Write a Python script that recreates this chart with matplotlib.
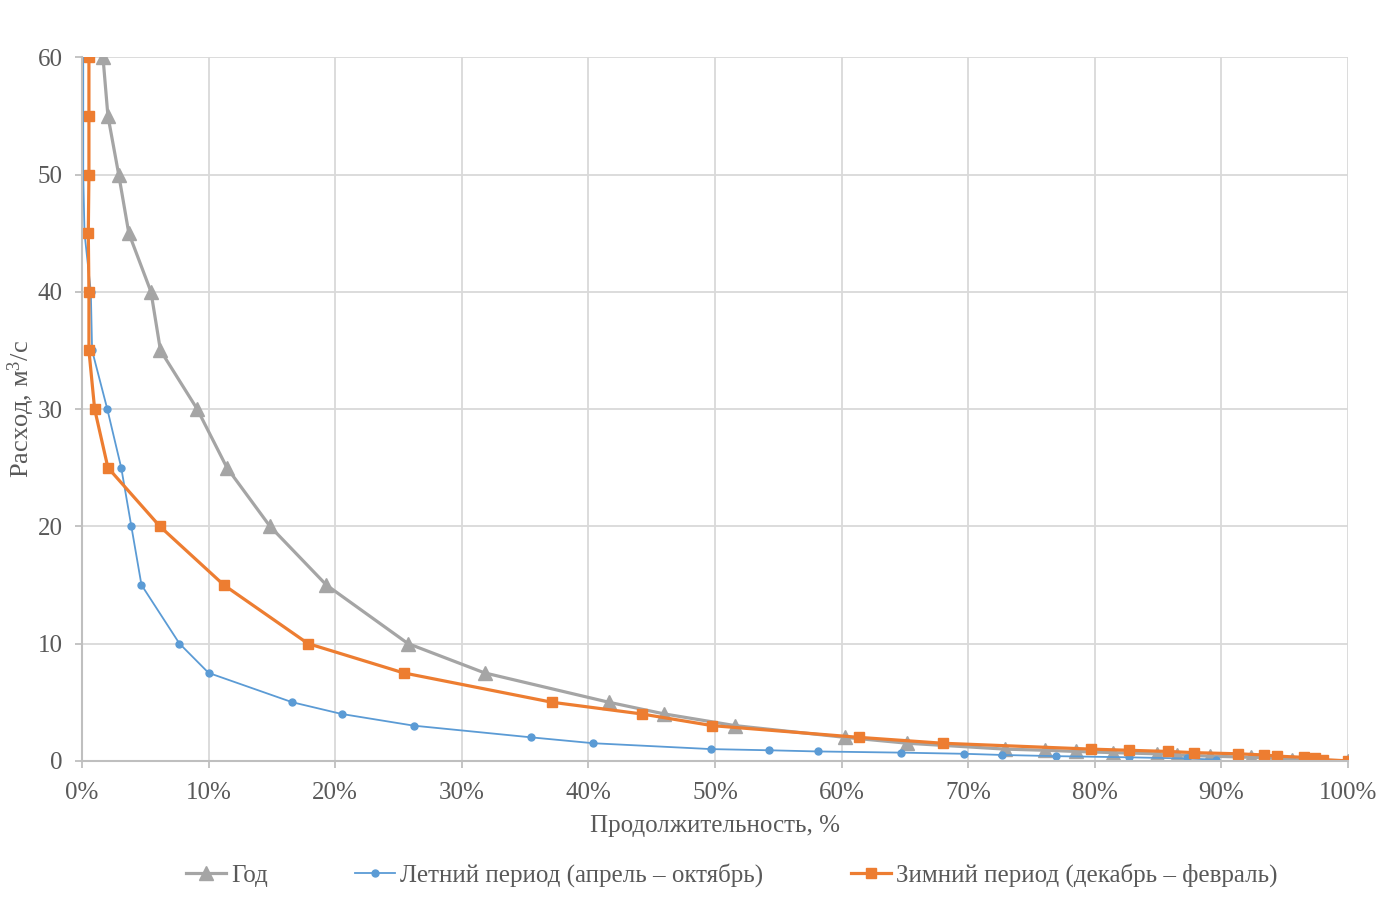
import matplotlib
matplotlib.use("Agg")
import matplotlib.pyplot as plt
from matplotlib.ticker import PercentFormatter, MultipleLocator

plt.rcParams['font.family'] = ['Liberation Serif', 'DejaVu Serif']
plt.rcParams['mathtext.fontset'] = 'custom'
plt.rcParams['mathtext.rm'] = 'Liberation Serif'

# Год (весь год)
year_pct = [1.66, 2.05, 2.9, 3.7, 5.45, 6.2, 9.1, 11.45, 14.85, 19.3, 25.75, 31.8,
            41.6, 46.0, 51.6, 60.3, 65.2, 72.9, 76.1, 78.5, 81.4, 84.9, 86.5,
            89.1, 92.3, 94.5, 95.6, 100.0]
year_q = [60, 55, 50, 45, 40, 35, 30, 25, 20, 15, 10, 7.5,
          5, 4, 3, 2, 1.5, 1.0, 0.9, 0.8, 0.7, 0.6, 0.5,
          0.4, 0.3, 0.2, 0.1, 0]

# Летний период
summer_pct = [0.1, 0.1, 0.1, 0.2, 0.7, 0.8, 2.0, 3.1, 3.9, 4.7, 7.7, 10.0,
              16.6, 20.5, 26.2, 35.5, 40.4, 49.7, 54.3, 58.1, 64.7, 69.7,
              72.7, 76.9, 82.7, 87.3, 89.6]
summer_q = [60, 55, 50, 45, 40, 35, 30, 25, 20, 15, 10, 7.5,
            5, 4, 3, 2, 1.5, 1.0, 0.9, 0.8, 0.7, 0.6,
            0.5, 0.4, 0.3, 0.2, 0.1]

# Зимний период
winter_pct = [0.55, 0.55, 0.55, 0.5, 0.55, 0.55, 1.0, 2.05, 6.15, 11.2, 17.85, 25.4,
              37.1, 44.2, 49.8, 61.4, 68.0, 79.7, 82.7, 85.8, 87.8, 91.3,
              93.4, 94.4, 96.5, 97.4, 98.0, 100.0]
winter_q = [60, 55, 50, 45, 40, 35, 30, 25, 20, 15, 10, 7.5,
            5, 4, 3, 2, 1.5, 1.0, 0.9, 0.8, 0.7, 0.6,
            0.5, 0.4, 0.3, 0.2, 0.1, 0]

fig = plt.figure(figsize=(13.94, 9.09), dpi=100)
ax = fig.add_axes([0.0588, 0.163, 0.9082, 0.774])

ax.plot([p / 100 for p in year_pct], year_q, color='#A5A5A5', lw=2.3,
        marker='^', ms=10, label='Год')
ax.plot([p / 100 for p in summer_pct], summer_q, color='#5B9BD5', lw=1.3,
        marker='o', ms=5, label='Летний период (апрель – октябрь)')
ax.plot([p / 100 for p in winter_pct], winter_q, color='#ED7D31', lw=2.3,
        marker='s', ms=6.5, label='Зимний период (декабрь – февраль)')

ax.set_xlim(0, 1)
ax.set_ylim(0, 60)
ax.xaxis.set_major_locator(MultipleLocator(0.1))
ax.xaxis.set_major_formatter(PercentFormatter(1.0, decimals=0))
ax.yaxis.set_major_locator(MultipleLocator(10))
ax.grid(True, color='#D9D9D9', lw=1.3)
ax.set_axisbelow(True)

for s in ['top', 'right']:
    ax.spines[s].set_visible(False)
for s in ['left', 'bottom']:
    ax.spines[s].set_color('#BFBFBF')
    ax.spines[s].set_linewidth(1.5)
ax.tick_params(axis='both', colors='#BFBFBF', labelcolor='#595959',
               labelsize=18, length=5, width=1.3)
ax.tick_params(axis='x', pad=10)
ax.tick_params(axis='y', pad=9)

ax.set_xlabel('Продолжительность, %', fontsize=18, color='#595959', labelpad=8)
ax.set_ylabel(r'Расход, м$\mathregular{^3}$/с', fontsize=19, color='#595959')
ax.yaxis.set_label_coords(-0.0355, 0.5)

leg = fig.legend(loc='center', bbox_to_anchor=(0.525, 0.037), ncol=3, frameon=False,
                 fontsize=18, columnspacing=3.5, handlelength=1.6, handletextpad=0.2)
for t in leg.get_texts():
    t.set_color('#595959')

fig.savefig('out.png', dpi=100)
